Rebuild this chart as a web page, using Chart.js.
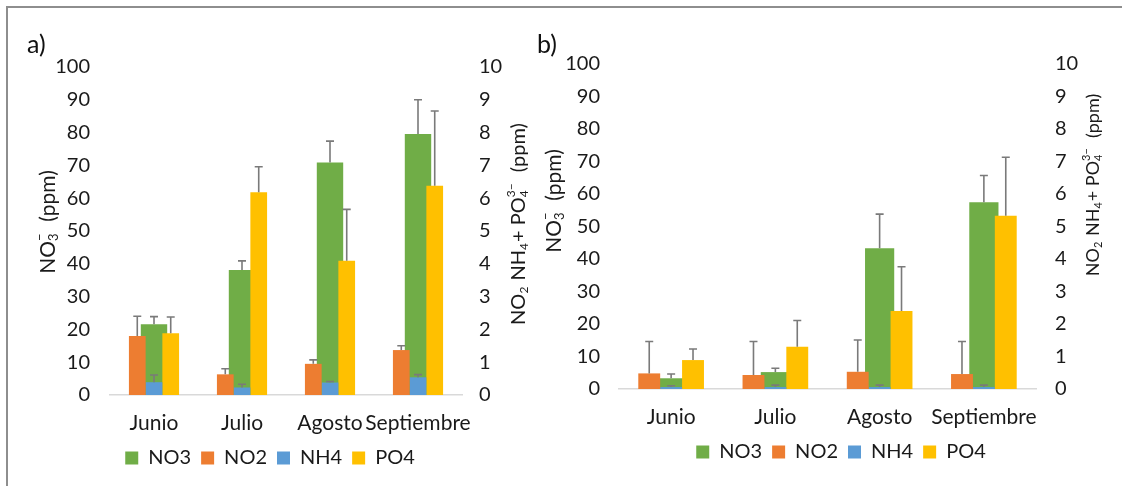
<!DOCTYPE html>
<html>
<head>
<meta charset="utf-8">
<script src="https://cdn.jsdelivr.net/npm/chart.js@4.4.1/dist/chart.umd.min.js"></script>
<style>
  body { margin: 0; background: #fff; width: 1126px; height: 486px; position: relative; overflow: hidden; font-family: Lato, sans-serif; }
  .frame { position: absolute; left: 6px; top: 6px; width: 1114px; height: 500px; border-top: 2px solid #8e8e8e; border-left: 2px solid #8e8e8e; }
  .panel { position: absolute; top: 0; }
  .tag { position: absolute; font-size: 25px; color: #111; line-height: 30px; }
</style>
</head>
<body>
<div class="frame"></div>
<canvas id="chartA" class="panel" style="left:0" width="540" height="486"></canvas>
<canvas id="chartB" class="panel" style="left:540px" width="586" height="486"></canvas>
<div class="tag" style="left:27px;top:28px">a)</div>
<div class="tag" style="left:537px;top:28px">b)</div>
<script>
// categories
var months = ['Junio', 'Julio', 'Agosto', 'Septiembre'];
var seriesNames = ['NO3', 'NO2', 'NH4', 'PO4'];

// panel a) values (NO3 on left axis, the rest on right axis) + error bars
var no3A = [21.6, 38.1, 70.9, 79.6];
var no3ErrA = [2.3, 2.8, 6.5, 10.4];
var no2A = [1.80, 0.63, 0.95, 1.37];
var no2ErrA = [0.6, 0.17, 0.12, 0.13];
var nh4A = [0.39, 0.23, 0.38, 0.54];
var nh4ErrA = [0.22, 0.1, 0.03, 0.08];
var po4A = [1.88, 6.18, 4.09, 6.38];
var po4ErrA = [0.5, 0.78, 1.57, 2.28];

// panel b)
var no3B = [3.3, 5.2, 43.3, 57.5];
var no3ErrB = [1.3, 1.2, 10.5, 8.2];
var no2B = [0.48, 0.43, 0.53, 0.46];
var no2ErrB = [0.98, 1.03, 0.98, 1.0];
var nh4B = [0.06, 0.06, 0.06, 0.06];
var nh4ErrB = [0.04, 0.06, 0.06, 0.06];
var po4B = [0.89, 1.3, 2.4, 5.33];
var po4ErrB = [0.34, 0.81, 1.36, 1.8];

// axis ranges
var leftMax = 100, leftStep = 10;
var rightMax = 10, rightStep = 1;

var colors = ['#70AD47', '#ED7D31', '#5B9BD5', '#FFC000'];
var textColor = '#1a1a1a';

// draws the one-sided error bars on top of each bar
var errorBars = {
    id: 'errorBars',
    afterDatasetsDraw: function (chart) {
        var ctx = chart.ctx;
        chart.data.datasets.forEach(function (ds, i) {
            if (!ds.errors) return;
            var meta = chart.getDatasetMeta(i);
            var yScale = chart.scales[meta.yAxisID];
            ctx.save();
            ctx.strokeStyle = '#7a7a7a';
            ctx.lineWidth = 1.6;
            meta.data.forEach(function (bar, j) {
                var top = yScale.getPixelForValue(ds.data[j] + ds.errors[j]);
                ctx.beginPath();
                ctx.moveTo(bar.x, bar.y);
                ctx.lineTo(bar.x, top);
                ctx.moveTo(bar.x - 4, top);
                ctx.lineTo(bar.x + 4, top);
                ctx.stroke();
            });
            ctx.restore();
        });
    }
};

// rotated axis titles with sub/superscripts (both read bottom to top)
function drawRich(ctx, parts, cx, cy, size) {
    var big = size + 'px Lato', small = Math.round(size * 0.6) + 'px Lato';
    var w = 0, widths = [];
    parts.forEach(function (p, k) {
        if (p.t !== undefined) { ctx.font = big; widths[k] = ctx.measureText(p.t).width; }
        else {
            ctx.font = small;
            widths[k] = Math.max(ctx.measureText(p.sub || '').width, ctx.measureText(p.sup || '').width) + 1;
        }
        w += widths[k];
    });
    ctx.save();
    ctx.translate(cx, cy);
    ctx.rotate(-Math.PI / 2);
    ctx.fillStyle = textColor;
    ctx.textBaseline = 'alphabetic';
    var x = -w / 2, base = size * 0.36;
    parts.forEach(function (p, k) {
        if (p.t !== undefined) { ctx.font = big; ctx.fillText(p.t, x, base); }
        else {
            ctx.font = small;
            if (p.sub) ctx.fillText(p.sub, x, base + size * 0.15);
            if (p.sup) ctx.fillText(p.sup, x, base - size * 0.5);
        }
        x += widths[k];
    });
    ctx.restore();
}

var leftTitle = [{t: 'NO'}, {sub: '3', sup: '\u2212'}, {t: '  (ppm)'}];
var rightTitle = [{t: 'NO'}, {sub: '2'}, {t: ' NH'}, {sub: '4'}, {t: '+ PO'}, {sub: '4', sup: '3\u2212'}, {t: '  (ppm)'}];

var axisTitles = {
    id: 'axisTitles',
    afterDraw: function (chart, args, opts) {
        drawRich(chart.ctx, leftTitle, opts.left[0], opts.left[1], opts.left[2]);
        drawRich(chart.ctx, rightTitle, opts.right[0], opts.right[1], opts.right[2]);
    }
};

function makeChart(id, vals, errs, lay) {
    var ctx = document.getElementById(id).getContext('2d');
    var datasets = vals.map(function (v, i) {
        var first = i === 0;
        return {
            label: seriesNames[i],
            data: v,
            errors: errs[i],
            backgroundColor: colors[i],
            borderWidth: 0,
            yAxisID: first ? 'y' : 'y1',
            order: first ? 1 : 0,          // NO3 drawn behind the others
            grouped: !first,               // NO3 sits centred on the month
            categoryPercentage: first ? 1 : lay.groupPct,
            barPercentage: first ? lay.no3Pct : 1
        };
    });
    return new Chart(ctx, {
        type: 'bar',
        data: { labels: months, datasets: datasets },
        options: {
            responsive: false,
            animation: false,
            layout: { padding: lay.padding },
            scales: {
                x: {
                    grid: { display: false, drawTicks: false },
                    border: { display: true, color: '#d9d9d9', width: 1.5 },
                    ticks: { color: textColor, font: { size: 21, family: 'Lato' }, padding: 16, maxRotation: 0, autoSkip: false },
                    afterFit: function (s) { s.height = lay.xH; }
                },
                y: {
                    position: 'left', min: 0, max: leftMax,
                    grid: { display: false, drawTicks: false }, border: { display: false },
                    ticks: { stepSize: leftStep, color: textColor, font: { size: 20, family: 'Lato' }, padding: lay.leftPad },
                    afterFit: function (s) { s.width = lay.leftW; }
                },
                y1: {
                    position: 'right', min: 0, max: rightMax,
                    grid: { display: false, drawTicks: false }, border: { display: false },
                    ticks: { stepSize: rightStep, color: textColor, font: { size: 20, family: 'Lato' }, padding: lay.rightPad },
                    afterFit: function (s) { s.width = lay.rightW; }
                }
            },
            plugins: {
                tooltip: { enabled: false },
                legend: {
                    position: 'bottom',
                    labels: {
                        boxWidth: 13, boxHeight: 13, padding: 10, color: textColor,
                        font: { size: 20, family: 'Lato' },
                        sort: function (a, b) { return a.datasetIndex - b.datasetIndex; }
                    }
                },
                axisTitles: lay.titles
            }
        },
        plugins: [errorBars, axisTitles]
    });
}

makeChart('chartA', [no3A, no2A, nh4A, po4A], [no3ErrA, no2ErrA, nh4ErrA, po4ErrA], {
    padding: { top: 67, left: 0, right: 0, bottom: 8 },
    leftW: 110, rightW: 78, xH: 43, leftPad: 20, rightPad: 17,
    groupPct: 0.57, no3Pct: 0.30,
    titles: { left: [47, 222, 21], right: [518, 224, 20] }
});

makeChart('chartB', [no3B, no2B, nh4B, po4B], [no3ErrB, no2ErrB, nh4ErrB, po4ErrB], {
    padding: { top: 64, left: 16, right: 0, bottom: 14 },
    leftW: 63, rightW: 90, xH: 43, leftPad: 19, rightPad: 19,
    groupPct: 0.63, no3Pct: 0.28,
    titles: { left: [13, 201, 21], right: [553, 185, 18] }
});
</script>
</body>
</html>
